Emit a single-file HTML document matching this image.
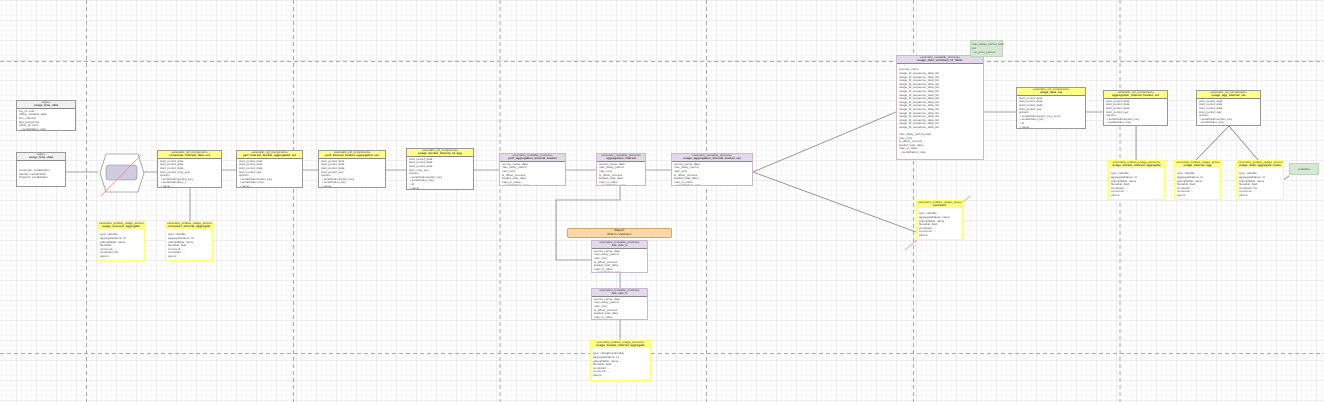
<!DOCTYPE html>
<html><head><meta charset="utf-8"><style>
body{margin:0;width:1324px;height:402px;overflow:hidden;background:#fff;font-family:"Liberation Sans",sans-serif}
.b{position:absolute;border:1px solid #999;background:#fff;font-size:3px;line-height:3.6px;color:#555;overflow:hidden;box-sizing:border-box}
.h{font-size:3px;line-height:3.4px;text-align:center;border-bottom:1px solid #888;padding:0 1px;color:#444}
.y .h{background:#ffff88}.p .h{background:#e4d8ea}.g .h{background:#f0f0f0}
.p{border-color:#c8b8d0}
.n{border-color:#ffff66;border-width:1px}
.n .h{background:#ffff88;border-bottom:none}
.t{padding:1px 2px;white-space:nowrap}
.gn{position:absolute;background:#d5e8d4;border:1px solid #bcd5bb;font-size:3px;color:#555;padding:1px}
</style></head><body>
<svg width="1324" height="402" style="position:absolute;left:0;top:0">
<defs>
<pattern id="mi" x="16.5" y="0" width="5" height="5" patternUnits="userSpaceOnUse"><path d="M0 0H5M0 0V5" stroke="#f0f0f0" stroke-width="1" fill="none"/></pattern>
<pattern id="ma" x="16.5" y="0" width="20" height="20" patternUnits="userSpaceOnUse"><path d="M0 0H20M0 0V20" stroke="#dcdcdc" stroke-width="1" fill="none"/></pattern>
</defs>
<rect width="1324" height="402" fill="url(#mi)"/>
<rect width="1324" height="402" fill="url(#ma)"/>
<g stroke="#aaa" stroke-dasharray="4,3" stroke-width="1">
<line x1="86.5" y1="0" x2="86.5" y2="402"/><line x1="293.5" y1="0" x2="293.5" y2="402"/><line x1="500" y1="0" x2="500" y2="402"/><line x1="706.5" y1="0" x2="706.5" y2="402"/><line x1="913.5" y1="0" x2="913.5" y2="402"/><line x1="1120" y1="0" x2="1120" y2="402"/>
<line x1="0" y1="61.5" x2="1324" y2="61.5"/><line x1="0" y1="353.5" x2="1324" y2="353.5"/>
</g>
<g stroke="#888" stroke-width="0.8" fill="none">
<path d="M66 172H98M144 172H157M222 170H236M303 170H318M386 170H406M474 170H499M566 170H596M646 170H671"/>
<path d="M753 172L896 112M753 172L916 232M984 112H1016M1086 112H1103"/>
<path d="M190 188V221M1136 126V160M1229 126L1196 160M1229 126L1258 160"/>
<path d="M620 185V200H556V260H591M620 273V288M620 320V340"/>
<path d="M1289 176L1280 182"/>
</g>
<polygon points="106,154 138,154 144,173 138,192 106,192 100,173" fill="#fff" stroke="#999" stroke-width="0.8"/>
<rect x="106" y="165" width="31" height="15" rx="3" fill="#d0cce0" stroke="#8884aa" stroke-width="0.6"/>
<line x1="101" y1="196" x2="141" y2="155" stroke="#f09090" stroke-width="0.8"/>
<line x1="905" y1="250" x2="970" y2="196" stroke="#f09090" stroke-width="0.8"/>
</svg>

<div class="b g" style="left:16px;top:100px;width:60px;height:31px"><div class="h">«type»<br><b>usage_time_data</b></div><div class="t">log_id: uuid<br>offline_variable_data<br>sim_channel<br>last_period: list<br>offset_id: uuid<br>&nbsp;&nbsp;• serialization_map</div></div>
<div class="b g" style="left:16px;top:152px;width:50px;height:35px"><div class="h">«type»<br><b>usage_time_data</b></div><div class="t"><br><br>consumer: serialization<br>Identity: serialization<br>Property: serialization</div></div>

<div class="b y" style="left:157px;top:150px;width:65px;height:38px"><div class="h">«scenario_ref_component»<br><b>consumer_interval_data_set</b></div><div class="t">start_period_data<br>start_period_data<br>start_period_data<br>start_period_msg_seq<br>options<br>&nbsp;• serializationoption_key<br>&nbsp;• serializationkey_x<br>&nbsp;• name</div></div>
<div class="b y" style="left:236px;top:150px;width:67px;height:38px"><div class="h">«scenario_ref_component»<br><b>perf_interval_bucket_aggregated_set</b></div><div class="t">start_period_data<br>start_period_data<br>start_period_data<br>start_period_seq<br>options<br>&nbsp;• serializationoption_key<br>&nbsp;• serialization_key<br>&nbsp;• name</div></div>
<div class="b y" style="left:318px;top:150px;width:68px;height:38px"><div class="h">«scenario_ref_component»<br><b>perf_interval_bucket_aggregated_set</b></div><div class="t">start_period_data<br>start_period_data<br>start_period_data<br>start_period_seq<br>options<br>&nbsp;• serializationoption_key<br>&nbsp;• serialization_key<br>&nbsp;• name</div></div>
<div class="b y" style="left:406px;top:148px;width:68px;height:42px"><div class="h">«scenario_ref_component»<br><b>usage_bucket_interval_id_agg</b></div><div class="t">start_period_data<br>start_period_data<br>start_period_data<br>start_msg_seq<br>options<br>&nbsp;• serializationoption_key<br>&nbsp;• serialization_key<br>&nbsp;• id<br>&nbsp;• name<br>&nbsp;• serialization</div></div>

<div class="b p" style="left:499px;top:153px;width:67px;height:33px"><div class="h">«scenario_reusable_process»<br><b>perf_aggregation_interval_bucket</b></div><div class="t">source_name: data<br>max_delay_period<br>max_retry<br>is_offset_process<br>loaded_load_data<br>map_ts_value<br>&nbsp;&nbsp;• serialization_map</div></div>
<div class="b p" style="left:596px;top:153px;width:50px;height:33px"><div class="h">«scenario_reusable_process»<br><b>aggregation_interval</b></div><div class="t">source_name: data<br>max_delay_period<br>max_retry<br>is_offset_process<br>loaded_load_data<br>map_ts_value<br>&nbsp;&nbsp;• serialization_map</div></div>
<div class="b p" style="left:671px;top:153px;width:82px;height:33px"><div class="h">«scenario_reusable_process»<br><b>usage_aggregation_interval_bucket_set</b></div><div class="t">source_name: data<br>max_delay_period<br>max_retry<br>is_offset_process<br>loaded_load_data<br>map_ts_value<br>&nbsp;&nbsp;• serialization_map</div></div>

<div style="position:absolute;left:567px;top:228px;width:105px;height:10px;background:#fad7a7;border:1px solid #d8a860;border-radius:2px;box-sizing:border-box;font-size:3px;line-height:3.5px;text-align:center;color:#444"><b>Report</b><br>BRE for Validation</div>
<div class="b p" style="left:591px;top:240px;width:57px;height:33px"><div class="h">«scenario_reusable_process»<br><b>bre_rule_a</b></div><div class="t">source_name: data<br>max_delay_period<br>max_retry<br>is_offset_process<br>loaded_load_data<br>map_ts_value<br>&nbsp;&nbsp;• serialization_map</div></div>
<div class="b p" style="left:591px;top:288px;width:57px;height:32px"><div class="h">«scenario_reusable_process»<br><b>bre_rule_b</b></div><div class="t">source_name: data<br>max_delay_period<br>max_retry<br>is_offset_process<br>loaded_load_data<br>map_ts_value<br>&nbsp;&nbsp;• serialization_map</div></div>

<div class="b n" style="left:97px;top:221px;width:48px;height:40px"><div class="h">«scenario_entities_usage_account»<br><b>usage_account_aggregate</b></div><div class="t"><br>type: variable<br>aggregateName: id<br>eIdentifiable: name<br>fluxtable: ...<br>comment: ...<br>constraint: list<br>parent</div></div>
<div class="b n" style="left:165px;top:221px;width:48px;height:40px"><div class="h">«scenario_entities_usage_account»<br><b>consumer_interval_aggregate</b></div><div class="t"><br>type: variable<br>aggregateName: id<br>eIdentifiable: name<br>fluxtable: field<br>comment: ...<br>constraint: ...<br>parent</div></div>
<div class="b n" style="left:590px;top:340px;width:61px;height:41px"><div class="h">«scenario_entities_usage_account»<br><b>usage_bucket_interval_aggregate</b></div><div class="t"><br>type: virtualfunctionality<br>aggregateName: id<br>eIdentifiable: name<br>fluxtable: field<br>constraint: ...<br>comment: ...<br>parent</div></div>

<div class="b p" style="left:896px;top:55px;width:88px;height:105px"><div class="h">«scenario_reusable_process»<br><b>usage_data_summary_id_fields</b></div><div class="t"><br>process_name<br>usage_fd_sequence_data_list<br>usage_fd_sequence_data_list<br>usage_fd_sequence_data_list<br>usage_fd_sequence_data_list<br>usage_fd_sequence_data_list<br>usage_fd_sequence_data_list<br>usage_fd_sequence_data_list<br>usage_fd_sequence_data_list<br>usage_fd_sequence_data_list<br>usage_fd_sequence_data_list<br>usage_fd_sequence_data_list<br>usage_fd_sequence_data_list<br>usage_fd_sequence_data_list<br>usage_fd_sequence_data_list<br>usage_fd_sequence_data_list<br>usage_fd_sequence_data_list<br><br>max_delay_period_start<br>max_retry<br>is_offset_process<br>loaded_load_data<br>map_ts_value<br>&nbsp;&nbsp;• serialization_map</div></div>
<div class="gn" style="left:970px;top:40px;width:29px;height:13px">max_delay_period_start<br>set<br>&nbsp;&nbsp;on_proc_period</div>
<div class="b y" style="left:1016px;top:87px;width:70px;height:42px"><div class="h">«scenario_ref_component»<br><b>usage_data_set</b></div><div class="t">start_period_data<br>start_period_data<br>start_period_data<br>start_period_seq<br>options<br>&nbsp;• serializationoption_key_cons<br>&nbsp;• serialization_key<br>&nbsp;• id<br>&nbsp;• name<br>&nbsp;• serialization</div></div>
<div class="b y" style="left:1103px;top:90px;width:65px;height:36px"><div class="h">«scenario_ref_component»<br><b>aggregation_interval_bucket_set</b></div><div class="t">start_period_data<br>start_period_data<br>start_period_data<br>start_period_seq<br>options<br>&nbsp;• serializationoption_key<br>&nbsp;• serialization_key<br>&nbsp;• name</div></div>
<div class="b y" style="left:1196px;top:90px;width:65px;height:36px"><div class="h">«scenario_ref_component»<br><b>usage_agg_interval_set</b></div><div class="t">start_period_data<br>start_period_data<br>start_period_data<br>start_period_seq<br>options<br>&nbsp;• serializationoption_key<br>&nbsp;• serialization_key<br>&nbsp;• serialization</div></div>
<div class="b n" style="left:1108px;top:160px;width:57px;height:40px"><div class="h">«scenario_entities_usage_account»<br><b>usage_bucket_interval_aggregate</b></div><div class="t"><br>type: variable<br>aggregateName: id<br>eIdentifiable: name<br>fluxtable: field<br>constraint: ...<br>comment: ...<br>parent</div></div>
<div class="b n" style="left:1174px;top:160px;width:47px;height:40px"><div class="h">«scenario_entities_usage_account»<br><b>usage_interval_agg</b></div><div class="t"><br>type: variable<br>aggregateName: id<br>eIdentifiable: name<br>fluxtable: field<br>constraint: ...<br>comment: ...<br>parent</div></div>
<div class="b n" style="left:1236px;top:160px;width:48px;height:40px"><div class="h">«scenario_entities_usage_account»<br><b>usage_data_aggregate_name</b></div><div class="t"><br>type: variable<br>aggregateName: id<br>eIdentifiable: name<br>fluxtable: field<br>constraint: list<br>comment: ...<br>parent</div></div>
<div class="gn" style="left:1289px;top:163px;width:28px;height:10px;line-height:10px;text-align:center;padding:0">«subtitle»</div>
<div class="b n" style="left:916px;top:200px;width:47px;height:40px"><div class="h">«scenario_entities_usage_account»<br><b>comment</b></div><div class="t"><br>type: variable<br>aggregateName: name<br>eIdentifiable: name<br>fluxtable: field<br>constraint: ...<br>comment: ...<br>parent</div></div>
</body></html>
